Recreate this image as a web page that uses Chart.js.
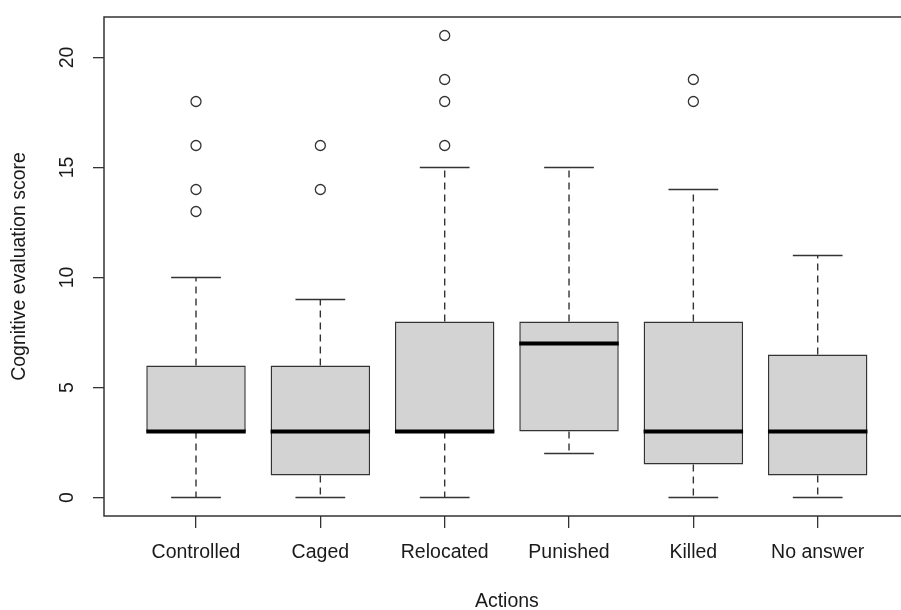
<!DOCTYPE html>
<html>
<head>
<meta charset="utf-8">
<script src="https://cdn.jsdelivr.net/npm/chart.js@4/dist/chart.umd.min.js"></script>
<style>
  html, body { margin: 0; padding: 0; background: #fff; overflow: hidden; }
  #wrap { width: 916px; height: 610px; }
</style>
</head>
<body>
<div id="wrap"><canvas id="boxChart" width="916" height="610"></canvas></div>
<script>
// five-number summaries, one entry per action
const actions = ['Controlled', 'Caged', 'Relocated', 'Punished', 'Killed', 'No answer'];
const whiskerLow = [0, 0, 0, 2, 0, 0];
const quartile1 = [3, 1, 3, 3, 1.5, 1];
const medians = [3, 3, 3, 7, 3, 3];
const quartile3 = [6, 6, 8, 8, 8, 6.5];
const whiskerHigh = [10, 9, 15, 15, 14, 11];
const outliers = [[13, 14, 16, 18], [14, 16], [16, 18, 19, 21], [], [18, 19], []];
const yTicks = [0, 5, 10, 15, 20];

const lineColor = '#333333';
const textColor = '#1a1a1a';
const fontFamily = '"Liberation Sans", Arial, sans-serif';
const fontSize = 19.5;

const outlierPoints = [];
outliers.forEach((list, i) => {
    list.forEach(v => outlierPoints.push({ x: i + 1, y: v }));
});

const boxExtras = {
    id: 'boxExtras',
    afterDatasetsDraw(chart) {
        const ctx = chart.ctx;
        const xs = chart.scales.x;
        const ys = chart.scales.y;
        const bars = chart.getDatasetMeta(0).data;
        ctx.save();
        actions.forEach((name, i) => {
            const cx = xs.getPixelForValue(i + 1);
            const half = bars[i].width / 2;
            const cap = half / 2;

            // dashed whiskers
            ctx.strokeStyle = lineColor;
            ctx.lineWidth = 1.4;
            ctx.setLineDash([7, 5]);
            ctx.beginPath();
            ctx.moveTo(cx, ys.getPixelForValue(quartile3[i]));
            ctx.lineTo(cx, ys.getPixelForValue(whiskerHigh[i]));
            ctx.moveTo(cx, ys.getPixelForValue(quartile1[i]));
            ctx.lineTo(cx, ys.getPixelForValue(whiskerLow[i]));
            ctx.stroke();

            // staples
            ctx.setLineDash([]);
            ctx.lineWidth = 1.5;
            ctx.beginPath();
            [whiskerLow[i], whiskerHigh[i]].forEach(v => {
                const py = ys.getPixelForValue(v);
                ctx.moveTo(cx - cap, py);
                ctx.lineTo(cx + cap, py);
            });
            ctx.stroke();

            // median
            ctx.strokeStyle = '#000';
            ctx.lineWidth = 4;
            ctx.beginPath();
            const my = ys.getPixelForValue(medians[i]);
            ctx.moveTo(cx - half, my);
            ctx.lineTo(cx + half, my);
            ctx.stroke();
        });
        ctx.restore();
    },
    afterDraw(chart) {
        const ctx = chart.ctx;
        const area = chart.chartArea;
        const ys = chart.scales.y;
        ctx.save();
        ctx.strokeStyle = lineColor;
        ctx.lineWidth = 1.5;
        ctx.strokeRect(area.left, area.top, area.right - area.left, area.bottom - area.top);

        // y tick labels, rotated like R's las = 0
        ctx.fillStyle = textColor;
        ctx.font = fontSize + 'px ' + fontFamily;
        ctx.textAlign = 'center';
        ctx.textBaseline = 'middle';
        yTicks.forEach(v => {
            ctx.save();
            ctx.translate(68, ys.getPixelForValue(v));
            ctx.rotate(-Math.PI / 2);
            ctx.fillText(String(v), 0, 0);
            ctx.restore();
        });
        ctx.restore();
    }
};

const ctx = document.getElementById('boxChart').getContext('2d');
const boxChart = new Chart(ctx, {
    type: 'bar',
    data: {
        datasets: [{
            type: 'bar',
            data: actions.map((a, i) => ({ x: i + 1, y: [quartile1[i], quartile3[i]] })),
            backgroundColor: '#d3d3d3',
            borderColor: lineColor,
            borderWidth: 1.5,
            borderSkipped: false,
            barPercentage: 1,
            categoryPercentage: 0.8
        }, {
            type: 'scatter',
            data: outlierPoints,
            pointStyle: 'circle',
            pointRadius: 5,
            backgroundColor: 'rgba(0,0,0,0)',
            borderColor: lineColor,
            borderWidth: 1.3
        }]
    },
    options: {
        responsive: false,
        animation: false,
        layout: { padding: { top: 17, right: 2, left: 0, bottom: 0 } },
        plugins: {
            legend: { display: false },
            tooltip: { enabled: false }
        },
        scales: {
            x: {
                type: 'linear',
                min: 0.26,
                max: 6.74,
                offset: false,
                afterBuildTicks: function(scale) {
                    scale.ticks = actions.map((a, i) => ({ value: i + 1 }));
                },
                afterFit: function(scale) {
                    scale.height = 94;
                },
                ticks: {
                    autoSkip: false,
                    maxRotation: 0,
                    minRotation: 0,
                    padding: 13,
                    color: textColor,
                    font: { family: fontFamily, size: fontSize },
                    callback: function(value) {
                        return actions[value - 1];
                    }
                },
                grid: {
                    offset: false,
                    drawOnChartArea: false,
                    drawTicks: true,
                    tickLength: 12,
                    color: lineColor,
                    lineWidth: 1.3
                },
                border: { display: false },
                title: {
                    display: true,
                    text: 'Actions',
                    color: textColor,
                    font: { family: fontFamily, size: fontSize, lineHeight: 1 },
                    padding: { top: 0, bottom: -1 }
                }
            },
            y: {
                min: -0.84,
                max: 21.84,
                afterBuildTicks: function(scale) {
                    scale.ticks = yTicks.map(v => ({ value: v }));
                },
                afterFit: function(scale) {
                    scale.width = 104;
                },
                ticks: { display: false },
                grid: {
                    drawOnChartArea: false,
                    drawTicks: true,
                    tickLength: 11,
                    color: lineColor,
                    lineWidth: 1.3
                },
                border: { display: false },
                title: {
                    display: true,
                    text: 'Cognitive evaluation score',
                    color: textColor,
                    font: { family: fontFamily, size: fontSize, lineHeight: 1 },
                    padding: { top: 10, bottom: 0 }
                }
            }
        }
    },
    plugins: [boxExtras]
});
</script>
</body>
</html>
